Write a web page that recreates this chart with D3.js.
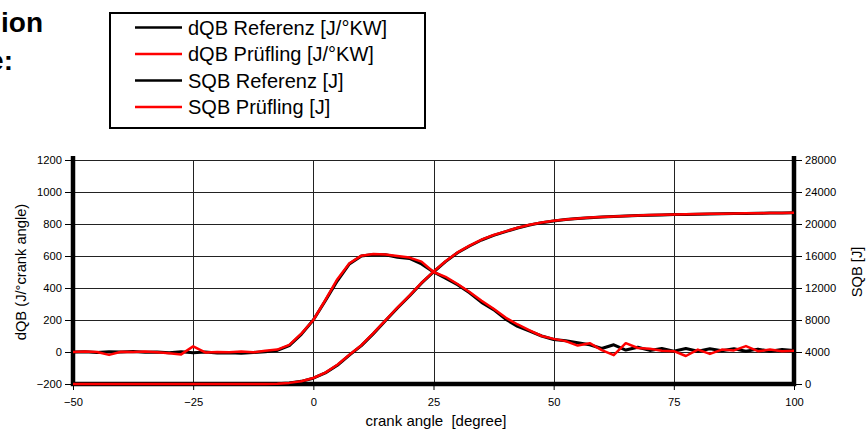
<!DOCTYPE html>
<html>
<head>
<meta charset="utf-8">
<script src="https://cdn.jsdelivr.net/npm/d3@7"></script>
<style>
  body { margin: 0; background: #fff; }
  svg { display: block; font-family: Arial, "Liberation Sans", sans-serif; }
</style>
</head>
<body>
<svg></svg>
<script>
const width = 868, height = 430;

// crank angle sampling, degrees
const angles = [-50, -47.5, -45, -42.5, -40, -37.5, -35, -32.5, -30, -27.5, -25, -22.5, -20, -17.5, -15, -12.5, -10, -7.5, -5, -2.5,
    0, 2.5, 5, 7.5, 10, 12.5, 15, 17.5, 20, 22.5, 25, 27.5, 30, 32.5, 35, 37.5, 40, 42.5, 45, 47.5,
    50, 52.5, 55, 57.5, 60, 62.5, 65, 67.5, 70, 72.5, 75, 77.5, 80, 82.5, 85, 87.5, 90, 92.5, 95, 97.5, 100];

// dQB [J/°KW], left axis
const dqbRef = [0, 2, -3, 2, 0, 3, -2, 0, -4, 2, -5, 0, -6, -4, -8, -3, 2, 10, 40, 110,
    200, 320, 445, 550, 600, 610, 608, 592, 585, 550, 500, 462, 420, 370, 310, 265, 205, 160, 130, 100,
    78, 70, 58, 45, 22, 45, 12, 30, 10, 22, 5, 22, 5, 20, 8, 20, 5, 18, 5, 15, 10];
const dqbTest = [0, 3, 0, -18, 2, 0, 3, -2, -8, -15, 35, -3, 0, -2, 3, -2, 8, 15, 45, 115,
    200, 325, 455, 555, 602, 612, 610, 600, 590, 565, 500, 470, 425, 375, 320, 270, 215, 172, 135, 100,
    82, 68, 40, 55, 12, -20, 55, 25, 20, 8, 5, -25, 15, -12, 15, 10, 37, 5, 15, 5, 8];

// SQB [J], right axis
const sqbRef = [0, 0, 0, 0, 0, 0, 0, 0, 0, 0, 0, 0, 0, 0, 0, 0, 0, 30, 120, 330,
    720, 1380, 2340, 3600, 4800, 6300, 7900, 9500, 11000, 12600, 14000, 15300, 16400, 17250, 18000, 18580, 19050, 19500, 19880, 20170,
    20380, 20550, 20690, 20790, 20870, 20940, 21000, 21050, 21100, 21140, 21180, 21200, 21230, 21260, 21280, 21300, 21320, 21340, 21360, 21380, 21400];
const sqbTest = [0, 0, 0, 0, 0, 0, 0, 0, 0, 0, 0, 0, 0, 0, 0, 0, 10, 40, 140, 350,
    750, 1420, 2400, 3650, 4850, 6350, 7950, 9560, 11050, 12650, 14050, 15350, 16450, 17300, 18050, 18620, 19080, 19530, 19900, 20190,
    20400, 20570, 20700, 20800, 20880, 20950, 21010, 21060, 21110, 21150, 21190, 21210, 21240, 21270, 21290, 21310, 21330, 21350, 21370, 21390, 21420];

const xTicks = [-50, -25, 0, 25, 50, 75, 100];
const leftTicks = [-200, 0, 200, 400, 600, 800, 1000, 1200];
const rightTicks = [0, 4000, 8000, 12000, 16000, 20000, 24000, 28000];

const legendItems = [
    {label: "dQB Referenz [J/°KW]", color: "#000"},
    {label: "dQB Prüfling [J/°KW]", color: "#ff0000"},
    {label: "SQB Referenz [J]", color: "#000"},
    {label: "SQB Prüfling [J]", color: "#ff0000"}
];

const svg = d3.select("svg").attr("width", width).attr("height", height);

const plot = {left: 73, right: 794, top: 160, bottom: 384};

const x = d3.scaleLinear().domain([-50, 100]).range([plot.left, plot.right]);
const yL = d3.scaleLinear().domain([-200, 1200]).range([plot.bottom, plot.top]);
const yR = d3.scaleLinear().domain([0, 28000]).range([plot.bottom, plot.top]);

// title fragments (cut off at the left edge, as in the source)
svg.append("text").attr("x", 43).attr("y", 32).attr("text-anchor", "end")
    .attr("font-size", 28).attr("font-weight", "bold").text("ion");
svg.append("text").attr("x", 13).attr("y", 70).attr("text-anchor", "end")
    .attr("font-size", 28).attr("font-weight", "bold").text("e:");

// grid
const grid = svg.append("g");
grid.selectAll("line.h").data(leftTicks.slice(1)).enter().append("line")
    .attr("x1", plot.left).attr("x2", plot.right)
    .attr("y1", d => Math.round(yL(d)) + 0.5).attr("y2", d => Math.round(yL(d)) + 0.5)
    .attr("stroke", "#222").attr("stroke-width", 1);
grid.selectAll("line.v").data(xTicks.slice(1, -1)).enter().append("line")
    .attr("y1", plot.top).attr("y2", plot.bottom)
    .attr("x1", d => Math.round(x(d)) + 0.5).attr("x2", d => Math.round(x(d)) + 0.5)
    .attr("stroke", "#222").attr("stroke-width", 1);

// axes
const fmt = d3.format("d");
const xAxis = d3.axisBottom(x).tickValues(xTicks).tickFormat(fmt).tickSize(4).tickPadding(8);
const yAxisL = d3.axisLeft(yL).tickValues(leftTicks).tickFormat(fmt).tickSize(6).tickPadding(3);
const yAxisR = d3.axisRight(yR).tickValues(rightTicks).tickFormat(fmt).tickSize(6).tickPadding(3);

function styleAxis(g) {
    g.select(".domain").remove();
    g.selectAll(".tick line").attr("stroke", "#000");
    g.selectAll(".tick text").attr("font-size", 11.2).attr("fill", "#000")
        .attr("font-family", "Arial, 'Liberation Sans', sans-serif");
}
svg.append("g").attr("transform", `translate(0,${plot.bottom + 2})`).call(xAxis).call(styleAxis);
svg.append("g").attr("transform", `translate(${plot.left - 2},0)`).call(yAxisL).call(styleAxis);
svg.append("g").attr("transform", `translate(${plot.right + 2},0)`).call(yAxisR).call(styleAxis);

// thick frame: left, bottom, right
svg.append("path")
    .attr("d", `M${plot.left},${plot.top - 4}V${plot.bottom}H${plot.right}V${plot.top - 4}`)
    .attr("fill", "none").attr("stroke", "#000").attr("stroke-width", 4.5);

// curves
const lineL = d3.line().x((d, i) => x(angles[i])).y(d => yL(d));
const lineR = d3.line().x((d, i) => x(angles[i])).y(d => yR(d));

const curves = svg.append("g").attr("fill", "none").attr("stroke-linejoin", "round");
curves.append("path").attr("d", lineR(sqbRef)).attr("stroke", "#000").attr("stroke-width", 3);
curves.append("path").attr("d", lineL(dqbRef)).attr("stroke", "#000").attr("stroke-width", 3);
curves.append("path").attr("d", lineR(sqbTest)).attr("stroke", "#ff0000").attr("stroke-width", 2.5);
curves.append("path").attr("d", lineL(dqbTest)).attr("stroke", "#ff0000").attr("stroke-width", 2.5);

// axis titles
svg.append("text").attr("x", 436).attr("y", 426).attr("text-anchor", "middle")
    .attr("font-size", 15).attr("xml:space", "preserve").text("crank angle  [degree]");
svg.append("text").attr("transform", `translate(26,272) rotate(-90)`).attr("text-anchor", "middle")
    .attr("font-size", 14.7).text("dQB (J/°crank angle)");
svg.append("text").attr("transform", `translate(862,272) rotate(-90)`).attr("text-anchor", "middle")
    .attr("font-size", 14.7).text("SQB [J]");

// legend
const legend = svg.append("g");
legend.append("rect").attr("x", 110).attr("y", 13).attr("width", 315).attr("height", 115)
    .attr("fill", "#fff").attr("stroke", "#000").attr("stroke-width", 2);
const rows = legend.selectAll("g.row").data(legendItems).enter().append("g")
    .attr("transform", (d, i) => `translate(0,${27.5 + i * 26.5})`);
rows.append("line").attr("x1", 135).attr("x2", 182).attr("y1", 0).attr("y2", 0)
    .attr("stroke", d => d.color).attr("stroke-width", 2.5);
rows.append("text").attr("x", 188).attr("y", 0).attr("dy", "0.35em")
    .attr("font-size", 20).text(d => d.label);
</script>
</body>
</html>
